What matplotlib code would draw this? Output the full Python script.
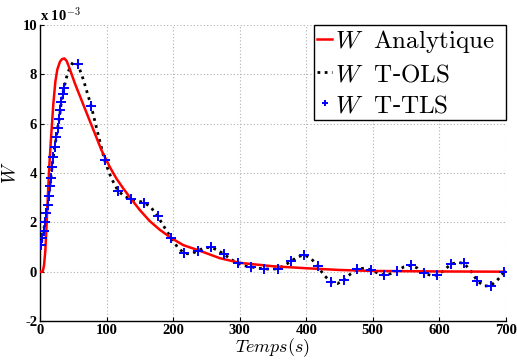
import matplotlib
matplotlib.use("Agg")
import matplotlib.pyplot as plt

plt.rcParams['mathtext.fontset'] = 'cm'

# Analytic solution (x1e-3)
t_ana = [0, 4, 6, 8, 10, 12, 14, 16, 18, 20, 23, 26, 30, 33, 36.5, 40, 45, 52.5, 62.5, 72.5, 82.5,
         92.5, 105, 115, 125, 135, 150, 165, 180, 196, 215, 240, 270, 300, 350, 400, 450, 500, 600, 700]
w_ana = [0, 0, 0.25, 0.85, 2.0, 3.2, 4.3, 5.2, 6.0, 6.8, 7.7, 8.2, 8.52, 8.62, 8.65, 8.55, 8.2,
         7.63, 6.95, 6.27, 5.6, 4.92, 4.24, 3.77, 3.38, 3.02, 2.5, 2.05, 1.7, 1.39, 1.08, 0.85, 0.55,
         0.36, 0.22, 0.14, 0.07, 0.03, 0.01, 0.0]

# T-OLS (dotted)
t_ols = [0, 1, 3.5, 5.5, 7.5, 9.5, 11.5, 13, 14.5, 16.5, 18, 20, 22, 24.5, 26.5, 29, 30.5, 32, 34, 36,
         40, 45, 50, 57, 65, 77, 87, 97, 107, 117, 127, 137, 147, 157, 167, 177, 187, 197, 207, 217,
         227, 237, 247, 257, 267, 277, 287, 297, 307, 317, 327, 337, 347, 357, 367, 377, 387, 397,
         407, 417, 427, 437, 447, 457, 467, 477, 487, 497, 507, 517, 527, 537, 547, 557, 567, 577,
         587, 597, 607, 617, 627, 637, 647, 657, 667, 677, 687, 697, 700]
w_ols = [0.9, 1.08, 1.36, 1.67, 2.02, 2.37, 2.71, 3.07, 3.46, 3.82, 4.24, 4.67, 5.04, 5.46, 5.83, 6.2,
         6.54, 6.87, 7.2, 7.45, 7.9, 8.3, 8.51, 8.41, 7.8, 6.71, 5.6, 4.52, 3.8, 3.29, 3.05, 2.94, 2.87,
         2.8, 2.6, 2.24, 1.8, 1.37, 0.98, 0.74, 0.72, 0.85, 0.97, 0.99, 0.87, 0.70, 0.5, 0.34, 0.24,
         0.2, 0.14, 0.12, 0.1, 0.12, 0.25, 0.42, 0.6, 0.68, 0.55, 0.23, -0.15, -0.41, -0.48, -0.34,
         -0.08, 0.11, 0.14, 0.08, -0.05, -0.14, -0.08, 0.04, 0.2, 0.26, 0.15, -0.05, -0.15, -0.14,
         0.05, 0.30, 0.38, 0.34, 0.05, -0.37, -0.58, -0.57, -0.35, -0.03, 0.02]

# T-TLS (crosses)
t_tls = [1, 3.5, 5.5, 7.5, 9.5, 11.5, 13, 14.5, 16.5, 18, 20, 22, 24.5, 26.5, 29, 30.5, 32, 34, 36,
         57, 77, 97, 117, 137, 157, 177, 197, 217, 237, 257, 277, 297, 317, 337, 357, 377, 397, 417,
         437, 457, 477, 497, 517, 537, 557, 577, 597, 617, 637, 657, 677, 697]
w_tls = [1.08, 1.36, 1.67, 2.02, 2.37, 2.71, 3.07, 3.46, 3.82, 4.24, 4.67, 5.04, 5.46, 5.83, 6.2,
         6.54, 6.87, 7.2, 7.45, 8.41, 6.71, 4.52, 3.29, 2.94, 2.80, 2.24, 1.37, 0.74, 0.85, 0.99,
         0.70, 0.34, 0.20, 0.12, 0.12, 0.42, 0.68, 0.23, -0.41, -0.34, 0.11, 0.08, -0.14, 0.04,
         0.26, -0.05, -0.14, 0.30, 0.34, -0.37, -0.57, -0.03]

xticks = [0, 100, 200, 300, 400, 500, 600, 700]
yticks = [-2, 0, 2, 4, 6, 8, 10]

fig = plt.figure(figsize=(5.17, 3.63), dpi=100)
ax = fig.add_axes([0.0774, 0.1157, 0.901, 0.815])

ax.plot(t_ana, w_ana, color='red', lw=1.8,
        label=r'$W\ \ \mathrm{Analytique}$' + '\u00a0\u00a0', zorder=3)
ax.plot(t_ols, w_ols, color='black', lw=2.0, ls=(0, (1, 1.6)),
        label=r'$W\ \ \mathrm{T}$-$\mathrm{OLS}$', zorder=2)
ax.plot(t_tls, w_tls, ls='none', marker='+', ms=7, mew=1.4, color='blue',
        label=r'$W\ \ \mathrm{T}$-$\mathrm{TLS}$', zorder=4)

ax.set_xlim(0, 700)
ax.set_ylim(-2, 10)
ax.set_xticks(xticks)
ax.set_yticks(yticks)
tick_font = dict(family='Liberation Serif', weight='bold', size=10.5)
ax.set_xticklabels([str(v) for v in xticks], fontdict=tick_font)
ax.set_yticklabels([str(v) for v in yticks], fontdict=tick_font)
ax.tick_params(direction='in', length=3, width=0.8, pad=2)
ax.grid(True, ls=(0, (1, 2)), color='#b0b0b0', lw=0.8)
for s in ['top', 'right']:
    ax.spines[s].set_visible(False)
for s in ['left', 'bottom']:
    ax.spines[s].set_linewidth(1.0)

ax.text(0.0, 1.005, r'x 10$^{\mathbf{-3}}$', transform=ax.transAxes, ha='left', va='bottom',
        family='Liberation Serif', weight='bold', fontsize=10.5)

ax.set_xlabel(r'$Temps(s)$', fontsize=13, labelpad=0)
ax.set_ylabel(r'$W$', fontsize=14, labelpad=2)

leg = ax.legend(loc='upper right', fontsize=18, handlelength=0.6, handletextpad=0.1,
                borderpad=0.12, labelspacing=0.28, borderaxespad=0.0, fancybox=False,
                framealpha=1, edgecolor='black', markerscale=0.6)
leg.get_frame().set_linewidth(1.0)

fig.savefig('out.png', dpi=100)
